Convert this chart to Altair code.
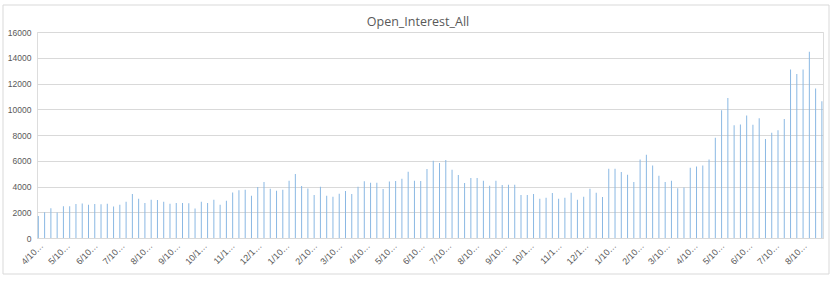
import altair as alt
import pandas as pd

chart_title = "Open_Interest_All"
start_date = "2018-04-10"
n_weeks = 126
open_interest = [
    1700, 2000, 2320, 1990, 2470, 2470, 2640, 2680, 2580, 2640,
    2630, 2660, 2450, 2590, 2810, 3410, 3050, 2710, 2980, 2950,
    2810, 2660, 2710, 2710, 2690, 2290, 2810, 2710, 2980, 2590,
    2900, 3540, 3710, 3750, 3290, 3970, 4350, 3820, 3670, 3750,
    4450, 4980, 4040, 3850, 3340, 3990, 3290, 3210, 3440, 3650,
    3410, 3990, 4410, 4300, 4300, 3800, 4380, 4430, 4600, 5150,
    4450, 4430, 5350, 6000, 5820, 6050, 5300, 4890, 4270, 4660,
    4660, 4450, 4060, 4450, 4110, 4140, 4140, 3340, 3340, 3410,
    3050, 3130, 3490, 3050, 3130, 3520, 2980, 3210, 3830, 3520,
    3180, 5380, 5380, 5120, 4920, 4350, 6100, 6470, 5640, 4840,
    4350, 4450, 3860, 3930, 5460, 5560, 5640, 6100, 7790, 9930,
    10870, 8750, 8820, 9520, 8800, 9310, 7680, 8180, 8360, 9240,
    13090, 12730, 13090, 14460, 11620, 10630,
]
y_ticks = [0, 2000, 4000, 6000, 8000, 10000, 12000, 14000, 16000]
# monthly tick labels: 10th of each month, Apr 2018 .. Aug 2020
tick_months = [(2018, m) for m in range(4, 13)] + [(2019, m) for m in range(1, 13)] + [(2020, m) for m in range(1, 9)]

dates = pd.date_range(start_date, periods=n_weeks, freq="7D")
df = pd.DataFrame({"date": dates.strftime("%Y-%m-%d"), "oi": open_interest})
one = pd.DataFrame({"t": [chart_title]})

tick_values = [alt.DateTime(year=y, month=m, date=10, utc=True) for (y, m) in tick_months]

x_enc = alt.X(
    "date:T",
    scale=alt.Scale(
        type="utc",
        padding=0,
        domain=[alt.DateTime(year=2018, month=4, date=8, hours=12, utc=True),
                alt.DateTime(year=2020, month=9, date=2, hours=6, utc=True)],
    ),
    axis=alt.Axis(
        title=None,
        values=tick_values,
        labelExpr="slice(utcFormat(datum.value, '%-m/%-d/%Y'), 0, 4) + '…'",
        labelAngle=-45,
        labelAlign="right",
        labelBaseline="top",
        labelPadding=3,
        labelFont="Liberation Sans",
        labelFontSize=9,
        labelColor="#595959",
        labelOverlap=False,
        ticks=False,
        grid=False,
        domain=True,
        domainColor="#d9d9d9",
    ),
)

bars = alt.Chart(df).mark_bar(size=1, color="#8ab8e3").encode(
    x=x_enc,
    y=alt.Y(
        "oi:Q",
        scale=alt.Scale(domain=[0, 16000], nice=False),
        axis=alt.Axis(
            title=None,
            values=y_ticks,
            format="d",
            labelFont="Liberation Sans",
            labelFontSize=8.5,
            labelColor="#595959",
            labelPadding=6,
            ticks=False,
            domain=False,
            grid=True,
            gridColor="#d9d9d9",
            gridWidth=1,
        ),
    ),
)

border = alt.Chart(one).mark_rect(fill=None, stroke="#d9d9d9", strokeWidth=1).encode(
    x=alt.value(-34), x2=alt.value(792), y=alt.value(-27), y2=alt.value(242)
)

title_text = alt.Chart(one).mark_text(
    font="Open Sans", fontSize=12.5, color="#595959", align="center", baseline="middle"
).encode(text="t:N", x=alt.value(381), y=alt.value(-10))

chart = alt.layer(border, bars, title_text).properties(
    width=786,
    height=206,
    autosize=alt.AutoSizeParams(type="none"),
    padding={"left": 37, "top": 32, "right": 17, "bottom": 44},
).configure_view(stroke=None).configure(background="white")

chart.save("out.html", embed_options={"renderer": "svg", "actions": False})
